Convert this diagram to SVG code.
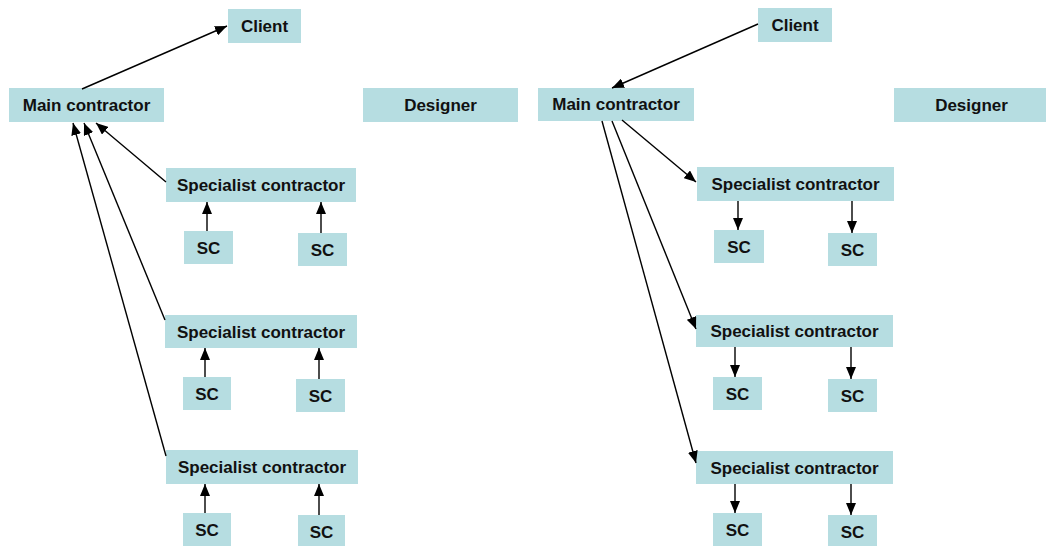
<svg xmlns="http://www.w3.org/2000/svg" width="1046" height="546" viewBox="0 0 1046 546">
  <style>
    .box { fill: #b6dde1; }
    .lbl { font-family: "Liberation Sans", Arial, sans-serif; font-weight: bold; font-size: 17px; fill: #111; text-anchor: middle; }
    .con { stroke: #000; stroke-width: 1.4; fill: none; marker-end: url(#head); }
  </style>
  <defs>
    <marker id="head" markerUnits="userSpaceOnUse" markerWidth="12" markerHeight="10" refX="12" refY="5" orient="auto">
      <path d="M0,0 L12,5 L0,10 z" fill="#000"/>
    </marker>
  </defs>
  <rect width="1046" height="546" fill="#fff"/>

  <!-- left structure -->
  <g id="client-l"><rect class="box" x="228" y="9" width="73" height="34"/><text class="lbl" x="264.5" y="32">Client</text></g>
  <g id="main-l"><rect class="box" x="9" y="88" width="155" height="34"/><text class="lbl" x="86.5" y="111">Main contractor</text></g>
  <g id="designer-l"><rect class="box" x="363" y="88" width="155" height="34"/><text class="lbl" x="440.5" y="111">Designer</text></g>
  <g id="spec-l1"><rect class="box" x="166" y="168" width="190" height="34"/><text class="lbl" x="261" y="191">Specialist contractor</text></g>
  <g id="sc-l1a"><rect class="box" x="184" y="231" width="49" height="33"/><text class="lbl" x="208.5" y="254">SC</text></g>
  <g id="sc-l1b"><rect class="box" x="298" y="233" width="49" height="33"/><text class="lbl" x="322.5" y="256">SC</text></g>
  <g id="spec-l2"><rect class="box" x="165" y="315" width="192" height="33"/><text class="lbl" x="261" y="338">Specialist contractor</text></g>
  <g id="sc-l2a"><rect class="box" x="183" y="377" width="48" height="33"/><text class="lbl" x="207" y="400">SC</text></g>
  <g id="sc-l2b"><rect class="box" x="296" y="379" width="49" height="33"/><text class="lbl" x="320.5" y="402">SC</text></g>
  <g id="spec-l3"><rect class="box" x="166" y="450" width="192" height="34"/><text class="lbl" x="262" y="473">Specialist contractor</text></g>
  <g id="sc-l3a"><rect class="box" x="183" y="513" width="48" height="33"/><text class="lbl" x="207" y="536">SC</text></g>
  <g id="sc-l3b"><rect class="box" x="298" y="515" width="47" height="33"/><text class="lbl" x="321.5" y="538">SC</text></g>

  <!-- right structure -->
  <g id="client-r"><rect class="box" x="758" y="8" width="74" height="34"/><text class="lbl" x="795" y="31">Client</text></g>
  <g id="main-r"><rect class="box" x="538" y="88" width="156" height="33"/><text class="lbl" x="616" y="110">Main contractor</text></g>
  <g id="designer-r"><rect class="box" x="894" y="88" width="155" height="34"/><text class="lbl" x="971.5" y="111">Designer</text></g>
  <g id="spec-r1"><rect class="box" x="697" y="167" width="197" height="34"/><text class="lbl" x="795.5" y="190">Specialist contractor</text></g>
  <g id="sc-r1a"><rect class="box" x="714" y="230" width="50" height="33"/><text class="lbl" x="739" y="253">SC</text></g>
  <g id="sc-r1b"><rect class="box" x="828" y="233" width="49" height="33"/><text class="lbl" x="852.5" y="256">SC</text></g>
  <g id="spec-r2"><rect class="box" x="696" y="315" width="197" height="32"/><text class="lbl" x="794.5" y="337">Specialist contractor</text></g>
  <g id="sc-r2a"><rect class="box" x="713" y="377" width="49" height="33"/><text class="lbl" x="737.5" y="400">SC</text></g>
  <g id="sc-r2b"><rect class="box" x="828" y="379" width="49" height="33"/><text class="lbl" x="852.5" y="402">SC</text></g>
  <g id="spec-r3"><rect class="box" x="696" y="451" width="197" height="33"/><text class="lbl" x="794.5" y="474">Specialist contractor</text></g>
  <g id="sc-r3a"><rect class="box" x="713" y="513" width="49" height="33"/><text class="lbl" x="737.5" y="536">SC</text></g>
  <g id="sc-r3b"><rect class="box" x="828" y="515" width="49" height="33"/><text class="lbl" x="852.5" y="538">SC</text></g>

  <g id="connectors">
    <!-- left: reporting upwards -->
    <line class="con" x1="82" y1="89" x2="227" y2="26"/>
    <line class="con" x1="166" y1="182" x2="96" y2="123"/>
    <line class="con" x1="165" y1="320" x2="84" y2="123"/>
    <line class="con" x1="166" y1="456" x2="73" y2="123"/>
    <line class="con" x1="207" y1="231" x2="207" y2="202"/>
    <line class="con" x1="321" y1="233" x2="321" y2="202"/>
    <line class="con" x1="205" y1="377" x2="205" y2="348"/>
    <line class="con" x1="319" y1="379" x2="319" y2="348"/>
    <line class="con" x1="205" y1="513" x2="205" y2="484"/>
    <line class="con" x1="319" y1="515" x2="319" y2="484"/>
    <!-- right: instructions downwards -->
    <line class="con" x1="758" y1="24" x2="612" y2="88"/>
    <line class="con" x1="622" y1="120" x2="696" y2="182"/>
    <line class="con" x1="612" y1="121" x2="696" y2="329"/>
    <line class="con" x1="602" y1="121" x2="696" y2="463"/>
    <line class="con" x1="738" y1="201" x2="738" y2="230"/>
    <line class="con" x1="852" y1="201" x2="852" y2="233"/>
    <line class="con" x1="735" y1="347" x2="735" y2="377"/>
    <line class="con" x1="851" y1="347" x2="851" y2="379"/>
    <line class="con" x1="735" y1="484" x2="735" y2="513"/>
    <line class="con" x1="851" y1="484" x2="851" y2="515"/>
  </g>
</svg>
